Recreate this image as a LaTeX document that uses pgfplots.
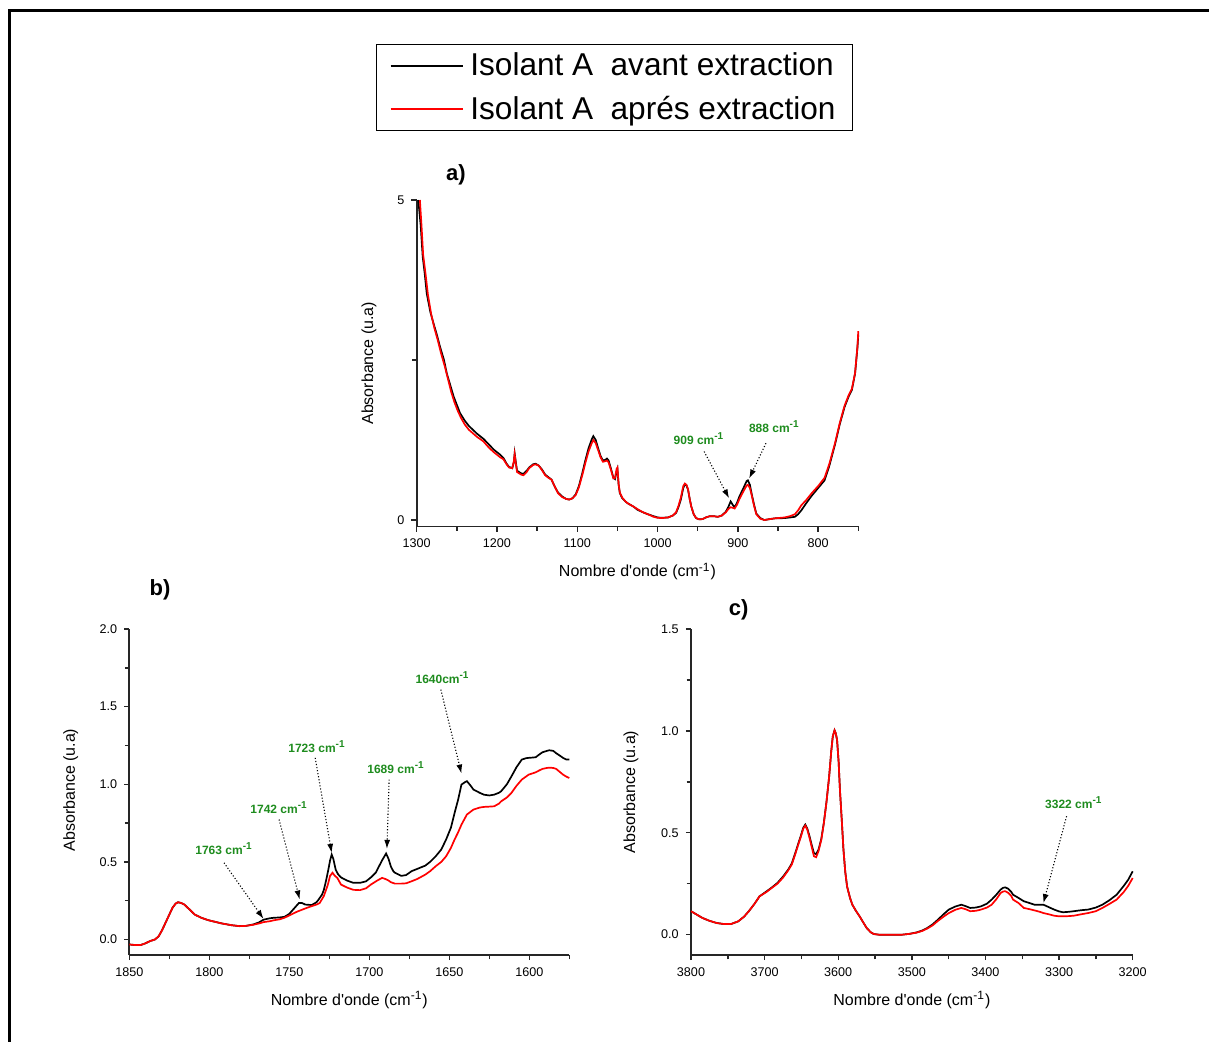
\documentclass[border=0pt]{standalone}
\usepackage{pgfplots}
\pgfplotsset{compat=1.18}
\usepackage{fontspec}
\setmainfont{Liberation Sans}
\usetikzlibrary{arrows.meta}
\definecolor{annot}{RGB}{30,140,30}

\pgfplotsset{
  spec/.style={
    scale only axis,
    axis x line=bottom,
    axis y line=left,
    axis line style={-, line width=0.9pt, black!85},
    x dir=reverse,
    tick align=outside,
    major tick length=2.6pt, minor tick length=2.2pt,
    every tick/.style={black!85, line width=0.7pt},
    tick label style={font=\fontsize{6.3}{7}\selectfont},
    /pgf/number format/assume math mode=true,
    /pgf/number format/set thousands separator={},
    xlabel={Nombre d\textquotesingle onde (cm\textsuperscript{-1})},
    ylabel={Absorbance (u.a)},
    label style={font=\fontsize{8}{9.6}\selectfont},
    xlabel style={at={(axis description cs:0.5,-0.138)}, anchor=center},
    clip=false,
  },
  blk/.style={black, line width=0.85pt},
  rd/.style={red, line width=0.85pt},
}
\tikzset{
  ann/.style={font=\fontsize{6}{7}\selectfont\bfseries, text=annot},
  arr/.style={densely dotted, line width=0.55pt, -{Latex[length=4.5pt,width=3pt]}},
}

\begin{document}
\begin{tikzpicture}
\useasboundingbox (0pt,0pt) rectangle (604.5pt,-520.5pt);
\draw[line width=1.5pt] (4.5pt,-521pt) -- (4.5pt,-5pt) -- (605pt,-5pt);

% ---------------- panel a ----------------
\begin{axis}[spec,
  at={(208.35pt,-263.2pt)}, anchor=south west,
  width=220.8pt, height=163.2pt,
  xmin=750, xmax=1300, ymin=-0.1, ymax=5,
  xtick={800,900,1000,1100,1200,1300},
  minor xtick={750,850,950,1050,1150,1250},
  ytick={0,5}, minor ytick={2.5},
  ylabel style={at={(axis description cs:-0.108,0.5)}, anchor=center},
  legend style={at={(-0.092,1.478)}, anchor=north west, draw=black, line width=0.6pt,
    font=\fontsize{15.8}{18}\selectfont, inner xsep=6.5pt, inner ysep=2.2pt, row sep=4.5pt,
    cells={anchor=west},
    /tikz/every odd column/.append style={column sep=1.5pt}},
  legend image code/.code={\draw[#1] (0pt,0pt) -- (36pt,0pt);},
]
\addplot[blk] coordinates {
(1298,5.0) (1295,4.6) (1292.5,4.11) (1290,3.85) (1287.5,3.54) (1283,3.25) (1279,3.07)
(1275,2.9) (1271,2.71) (1266,2.5) (1262.5,2.29) (1258,2.1) (1254,1.93) (1250,1.8)
(1246,1.67) (1240,1.55) (1235,1.47) (1225,1.35) (1217,1.27) (1210,1.18) (1204,1.1)
(1196,1.02) (1192,0.97) (1188,0.88) (1185,0.83) (1181,0.81) (1179,0.9) (1178,1.04)
(1176.5,0.9) (1175,0.77) (1170,0.73) (1167,0.72) (1163,0.77) (1160,0.82) (1155,0.87)
(1152,0.88) (1148,0.85) (1144,0.79) (1140,0.71) (1136,0.67) (1132,0.63) (1128,0.52)
(1124,0.43) (1119,0.37) (1114,0.33) (1110,0.32) (1106,0.34) (1102,0.40) (1098,0.53)
(1094,0.72) (1090,0.93) (1086,1.12) (1082,1.26) (1080,1.31) (1077,1.25) (1074,1.12)
(1071,1.00) (1068,0.93) (1065,0.94) (1063,0.96) (1061,0.93) (1058,0.80) (1055,0.66)
(1053,0.64) (1051,0.76) (1050,0.80) (1048.5,0.55) (1047,0.42) (1044,0.34) (1040,0.29)
(1037,0.26) (1030,0.21) (1025,0.16) (1018,0.12) (1012,0.09) (1005,0.06) (1000,0.04)
(995,0.035) (987,0.04) (981,0.07) (977,0.11) (974,0.2) (971,0.32) (968,0.50) (966,0.56)
(964,0.54) (962,0.47) (960,0.33) (958,0.21) (955,0.09) (952,0.03) (948,0.01) (944,0.015)
(940,0.04) (935,0.06) (930,0.06) (925,0.05) (920,0.07) (915,0.13) (912,0.2) (909,0.29)
(906,0.23) (904,0.20) (901,0.27) (898,0.37) (893,0.5) (889,0.61) (887.5,0.62) (885,0.55)
(883,0.42) (880,0.25) (877,0.10) (872,0.03) (867,0.0) (860,0.015) (854,0.026) (842,0.03)
(835,0.04) (829,0.05) (825,0.09) (821,0.15) (815,0.26) (808,0.38) (800,0.5) (792,0.62)
(786,0.85) (779,1.18) (773,1.5) (767,1.77) (762,1.93) (758,2.03) (754,2.29) (751,2.7) (750,2.9)
};
\addlegendentry{Isolant A\hspace{0.55em}avant extraction}
\addplot[rd] coordinates {
(1296,5.0) (1294,4.6) (1292,4.15) (1289,3.85) (1286,3.52) (1282,3.22) (1278,3.0)
(1274,2.82) (1270,2.62) (1265,2.4) (1261,2.2) (1257,2.0) (1253,1.84) (1249,1.71)
(1245,1.6) (1240,1.49) (1235,1.41) (1225,1.30) (1217,1.23) (1210,1.13) (1204,1.06)
(1196,0.98) (1192,0.95) (1188,0.87) (1185,0.82) (1181,0.81) (1179,0.92) (1178,1.03)
(1176.5,0.88) (1175,0.75) (1170,0.71) (1167,0.70) (1163,0.75) (1160,0.81) (1155,0.86)
(1152,0.87) (1148,0.85) (1144,0.78) (1140,0.70) (1136,0.66) (1132,0.63) (1128,0.52)
(1124,0.42) (1119,0.36) (1114,0.33) (1110,0.32) (1106,0.34) (1102,0.39) (1098,0.51)
(1094,0.69) (1090,0.89) (1086,1.07) (1082,1.2) (1080,1.25) (1077,1.2) (1074,1.09)
(1071,0.98) (1068,0.91) (1065,0.92) (1063,0.93) (1061,0.9) (1058,0.78) (1055,0.65)
(1053,0.66) (1051,0.8) (1050,0.82) (1048.5,0.56) (1047,0.43) (1044,0.35) (1040,0.29)
(1037,0.26) (1030,0.21) (1025,0.17) (1018,0.12) (1012,0.09) (1005,0.05) (1000,0.035)
(995,0.03) (987,0.04) (981,0.07) (977,0.12) (974,0.22) (971,0.35) (968,0.53) (966,0.57)
(964,0.55) (962,0.48) (960,0.33) (958,0.21) (955,0.09) (952,0.03) (948,0.01) (944,0.015)
(940,0.04) (935,0.06) (930,0.06) (925,0.05) (920,0.07) (915,0.12) (912,0.17) (909,0.2)
(906,0.19) (904,0.18) (901,0.24) (898,0.33) (893,0.45) (889,0.54) (887.5,0.55) (885,0.5)
(883,0.4) (880,0.23) (877,0.09) (872,0.02) (867,0.0) (860,0.015) (854,0.026) (842,0.04)
(835,0.06) (829,0.09) (825,0.15) (821,0.23) (815,0.31) (808,0.42) (800,0.53) (792,0.66)
(786,0.88) (779,1.2) (773,1.52) (767,1.79) (762,1.95) (758,2.05) (754,2.3) (751,2.72) (750,2.95)
};
\addlegendentry{Isolant A\hspace{0.55em}aprés extraction}
\node[font=\fontsize{11}{13}\selectfont\bfseries] at (axis description cs:0.089,1.077) {a)};
\node[ann] at (axis cs:948.4,1.276) {909 cm\textsuperscript{-1}};
\node[ann] at (axis cs:854.6,1.46) {888 cm\textsuperscript{-1}};
\draw[arr] (axis cs:942,1.07) -- (axis cs:910.9,0.34);
\draw[arr] (axis cs:865,1.2) -- (axis cs:885.9,0.65);
\end{axis}

% ---------------- panel b ----------------
\begin{axis}[spec,
  at={(64.65pt,-477.5pt)}, anchor=south west,
  width=220pt, height=163pt,
  xmin=1575, xmax=1850, ymin=-0.1, ymax=2.0,
  xtick={1600,1650,1700,1750,1800,1850},
  minor xtick={1575,1625,1675,1725,1775,1825},
  ytick={0,0.5,1,1.5,2}, minor ytick={0.25,0.75,1.25,1.75},
  yticklabel style={/pgf/number format/.cd, fixed, fixed zerofill, precision=1},
  ylabel style={at={(axis description cs:-0.133,0.506)}, anchor=center},
]
\addplot[blk] coordinates {
(1850,-0.032) (1846,-0.036) (1843,-0.036) (1840,-0.025) (1837,-0.01) (1834,0.0)
(1831.7,0.02) (1829.5,0.06) (1827.4,0.107) (1825,0.16) (1823,0.204) (1821,0.232)
(1819.5,0.24) (1817.5,0.235) (1815.6,0.225) (1812,0.19) (1809,0.16) (1805,0.14)
(1800.5,0.124) (1796,0.113) (1792,0.103) (1786,0.092) (1781,0.086) (1777,0.088)
(1772.5,0.097) (1769,0.11) (1766,0.128) (1762,0.137) (1759.6,0.14) (1756,0.142)
(1753,0.146) (1750,0.165) (1747,0.2) (1744,0.235) (1742,0.235) (1740,0.225) (1736,0.222)
(1733,0.24) (1731.7,0.257) (1729.5,0.29) (1728.4,0.32) (1727,0.38) (1725.6,0.45)
(1724.5,0.51) (1723.5,0.547) (1722.5,0.52) (1721,0.45) (1719.5,0.42) (1717.7,0.40)
(1714,0.38) (1710,0.365) (1705.8,0.365) (1702,0.375) (1699,0.40) (1696,0.43) (1694,0.47)
(1692,0.51) (1689.5,0.554) (1688,0.52) (1686.5,0.47) (1685,0.44) (1684,0.43) (1680,0.41)
(1677,0.415) (1673.6,0.44) (1670,0.455) (1665,0.476) (1662,0.5) (1658.5,0.536) (1655,0.58)
(1652,0.644) (1649,0.72) (1646.7,0.815) (1644.5,0.9) (1642.4,0.998) (1640,1.015) (1639,1.02)
(1637,0.995) (1634.9,0.966) (1631,0.945) (1628.4,0.933) (1625,0.928) (1622,0.933)
(1619,0.945) (1617.6,0.955) (1614,1.0) (1611.2,1.05) (1608,1.11) (1604.7,1.159)
(1602,1.168) (1600.4,1.17) (1598,1.172) (1596,1.174) (1594,1.19) (1591.8,1.206)
(1589,1.215) (1587.5,1.219) (1585,1.215) (1583.2,1.20) (1581,1.185) (1578.9,1.17)
(1577,1.16) (1575,1.159)
};
\addplot[rd] coordinates {
(1850,-0.032) (1846,-0.036) (1843,-0.036) (1840,-0.025) (1837,-0.01) (1834,0.0)
(1831.7,0.02) (1829.5,0.06) (1827.4,0.107) (1825,0.16) (1823,0.204) (1821,0.232)
(1819.5,0.24) (1817.5,0.235) (1815.6,0.225) (1812,0.19) (1809,0.16) (1805,0.14)
(1800.5,0.124) (1796,0.113) (1792,0.103) (1786,0.092) (1781,0.086) (1777,0.088)
(1772.5,0.095) (1769,0.103) (1766,0.112) (1762,0.118) (1759.6,0.124) (1756,0.13)
(1753,0.14) (1749,0.16) (1745,0.18) (1740,0.2) (1736,0.215) (1733,0.225) (1731,0.235)
(1728.4,0.28) (1726,0.35) (1724.5,0.41) (1723,0.43) (1721.5,0.41) (1720,0.397)
(1717.7,0.354) (1714,0.335) (1710,0.32) (1705.8,0.318) (1702,0.33) (1699,0.354)
(1695,0.38) (1692,0.397) (1690,0.39) (1688,0.38) (1686.5,0.369) (1684,0.36) (1680,0.36)
(1677,0.362) (1673.6,0.375) (1670,0.39) (1665,0.418) (1662,0.44) (1658.5,0.472)
(1655,0.5) (1652,0.536) (1649,0.59) (1646.7,0.644) (1644.5,0.69) (1642.4,0.74)
(1639,0.805) (1634.9,0.837) (1631,0.85) (1628.4,0.854) (1625,0.856) (1622,0.858)
(1619,0.875) (1617.6,0.89) (1614,0.915) (1611.2,0.944) (1608,0.99) (1604.7,1.03)
(1602,1.05) (1600.4,1.062) (1598,1.07) (1596,1.077) (1594,1.088) (1591.8,1.099)
(1589,1.105) (1587.5,1.107) (1585,1.105) (1583.2,1.099) (1581,1.08) (1578.9,1.062)
(1577,1.05) (1575,1.04)
};
\node[font=\fontsize{11}{13}\selectfont\bfseries] at (axis description cs:0.07,1.12) {b)};
\node[ann] at (axis cs:1790.8,0.584) {1763 cm\textsuperscript{-1}};
\node[ann] at (axis cs:1756.4,0.848) {1742 cm\textsuperscript{-1}};
\node[ann] at (axis cs:1732.7,1.245) {1723 cm\textsuperscript{-1}};
\node[ann] at (axis cs:1683.3,1.105) {1689 cm\textsuperscript{-1}};
\node[ann] at (axis cs:1654.2,1.685) {1640cm\textsuperscript{-1}};
\draw[arr] (axis cs:1790.8,0.494) -- (axis cs:1766.1,0.133);
\draw[arr] (axis cs:1756.4,0.773) -- (axis cs:1743.5,0.258);
\draw[arr] (axis cs:1733.8,1.17) -- (axis cs:1723.5,0.558);
\draw[arr] (axis cs:1687.6,1.03) -- (axis cs:1689,0.584);
\draw[arr] (axis cs:1655.3,1.61) -- (axis cs:1642.4,1.069);
\end{axis}

% ---------------- panel c ----------------
\begin{axis}[spec,
  at={(345.5pt,-477.5pt)}, anchor=south west,
  width=220.85pt, height=163pt,
  xmin=3200, xmax=3800, ymin=-0.1, ymax=1.5,
  xtick={3200,3300,3400,3500,3600,3700,3800},
  minor xtick={3250,3350,3450,3550,3650,3750},
  ytick={0,0.5,1,1.5}, minor ytick={0.25,0.75,1.25},
  yticklabel style={/pgf/number format/.cd, fixed, fixed zerofill, precision=1},
  ylabel style={at={(axis description cs:-0.136,0.5)}, anchor=center},
]
\addplot[blk] coordinates {
(3800,0.115) (3792,0.098) (3784.5,0.082) (3775,0.068) (3765,0.057) (3755,0.052)
(3745.7,0.052) (3736,0.065) (3728,0.088) (3721.4,0.115) (3714,0.15) (3706.9,0.188)
(3697.2,0.213) (3690,0.232) (3682.6,0.254) (3675,0.285) (3668,0.319) (3663,0.35)
(3658.4,0.40) (3654,0.45) (3651,0.483) (3647.5,0.525) (3644.8,0.54) (3642,0.52)
(3639,0.483) (3636,0.44) (3633,0.40) (3630,0.395) (3626.8,0.417) (3623,0.47)
(3619.6,0.548) (3616,0.65) (3612.3,0.777) (3609.5,0.9) (3607.4,0.973) (3605,1.003)
(3603.5,0.99) (3601.6,0.957) (3599.5,0.85) (3597.7,0.712) (3595,0.55) (3592.9,0.417)
(3590.5,0.31) (3588,0.237) (3584,0.18) (3580.8,0.147) (3576,0.117) (3571,0.09)
(3566,0.06) (3561.4,0.033) (3556,0.012) (3551.7,0.003) (3545,0.0) (3532.3,0.0)
(3512.9,0.0) (3503,0.004) (3493.5,0.011) (3486,0.02) (3479,0.033) (3472,0.05)
(3464.4,0.074) (3457,0.1) (3449.8,0.123) (3441,0.138) (3432.8,0.147) (3427,0.14)
(3420.7,0.131) (3413,0.133) (3406,0.139) (3398,0.152) (3391.6,0.172) (3385,0.197)
(3379.5,0.221) (3376,0.23) (3373,0.232) (3369,0.225) (3365,0.21) (3362.5,0.196)
(3355,0.18) (3347.9,0.164) (3340,0.155) (3333.4,0.147) (3326,0.147) (3321.3,0.147)
(3314,0.135) (3306.7,0.123) (3300,0.114) (3294.6,0.11) (3287,0.112) (3280,0.115)
(3270,0.12) (3260.6,0.123) (3250,0.133) (3241.2,0.147) (3232,0.168) (3221.8,0.196)
(3212,0.24) (3206,0.27) (3200,0.311)
};
\addplot[rd] coordinates {
(3800,0.115) (3792,0.098) (3784.5,0.082) (3775,0.068) (3765,0.057) (3755,0.052)
(3745.7,0.052) (3736,0.065) (3728,0.088) (3721.4,0.115) (3714,0.15) (3706.9,0.188)
(3697.2,0.21) (3690,0.23) (3682.6,0.25) (3675,0.28) (3668,0.315) (3663,0.345)
(3658.4,0.395) (3654,0.445) (3651,0.478) (3647.5,0.52) (3644.8,0.535) (3642,0.515)
(3639,0.475) (3636,0.43) (3633,0.385) (3630,0.38) (3626.8,0.41) (3623,0.465)
(3619.6,0.545) (3616,0.65) (3612.3,0.777) (3609.5,0.9) (3607.4,0.973) (3605,1.003)
(3603.5,0.99) (3601.6,0.957) (3599.5,0.85) (3597.7,0.712) (3595,0.55) (3592.9,0.417)
(3590.5,0.31) (3588,0.237) (3584,0.18) (3580.8,0.147) (3576,0.117) (3571,0.09)
(3566,0.06) (3561.4,0.033) (3556,0.012) (3551.7,0.003) (3545,0.0) (3532.3,0.0)
(3512.9,0.0) (3503,0.004) (3493.5,0.01) (3486,0.018) (3479,0.03) (3472,0.045)
(3464.4,0.068) (3457,0.088) (3449.8,0.106) (3441,0.122) (3432.8,0.131) (3427,0.125)
(3420.7,0.115) (3413,0.117) (3406,0.123) (3398,0.133) (3391.6,0.147) (3385,0.175)
(3379.5,0.204) (3376,0.212) (3373,0.213) (3369,0.205) (3365,0.19) (3362.5,0.172)
(3355,0.155) (3347.9,0.131) (3340,0.125) (3333.4,0.119) (3326,0.112) (3321.3,0.106)
(3314,0.1) (3306.7,0.093) (3300,0.09) (3294.6,0.09) (3287,0.091) (3280,0.093)
(3270,0.1) (3260.6,0.106) (3250,0.115) (3241.2,0.131) (3232,0.15) (3221.8,0.172)
(3212,0.21) (3206,0.24) (3200,0.278)
};
\node[font=\fontsize{11}{13}\selectfont\bfseries] at (axis description cs:0.108,1.06) {c)};
\node[ann] at (axis cs:3280,0.646) {3322 cm\textsuperscript{-1}};
\draw[arr] (axis cs:3289.8,0.581) -- (axis cs:3321.3,0.155);
\end{axis}
\end{tikzpicture}
\end{document}
